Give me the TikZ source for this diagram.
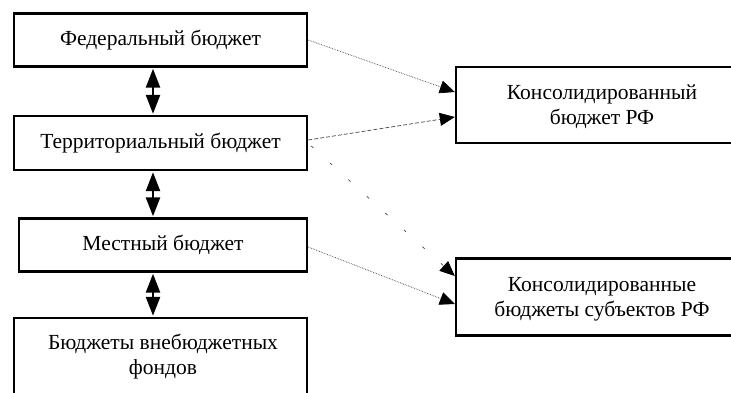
\documentclass[tikz,border=0pt]{standalone}
\usepackage{fontspec}
\setmainfont{Liberation Serif}
\usetikzlibrary{arrows.meta}
\begin{document}
\begin{tikzpicture}[x=1pt,y=-1pt,
  txt/.style={font=\fontsize{21.5}{25}\selectfont,align=center,inner sep=0pt},
  box/.style={draw,line width=2.4pt,inner sep=0pt,txt},
  dbl/.style={{Triangle[length=19pt,width=14pt]}-{Triangle[length=19pt,width=14pt]},line width=2.5pt,shorten <=1pt,shorten >=1pt},
  lnk/.style={-{Triangle[length=15pt,width=13pt,color=black,fill=black]},line width=0.7pt,gray!55!black}]
\useasboundingbox (0,0) rectangle (731,392);
\clip (0,0) rectangle (731,392);
\node[box,minimum width=293pt,minimum height=53pt] (fed) at (160.5,40) {Федеральный бюджет};
\node[box,minimum width=293pt,minimum height=54pt] (ter) at (160.5,143) {Территориальный бюджет};
\node[box,minimum width=288pt,minimum height=53pt] (loc) at (163,245) {Местный бюджет};
\node[box,minimum width=293pt,minimum height=90pt] (fnd) at (160.5,363) {};
\node[txt] (fndt) at (163,357) {Бюджеты внебюджетных\\фондов};
\node[box,minimum width=280pt,minimum height=76pt] (krf) at (596,105) {};
\node[txt] (krft) at (602,107) {Консолидированный\\бюджет РФ};
\node[box,minimum width=280pt,minimum height=77pt] (ksub) at (596,297) {};
\node[txt] (ksubt) at (602,299) {Консолидированные\\бюджеты субъектов РФ};
\draw[dbl] (fed.south -| 153,0) -- (ter.north -| 153,0);
\draw[dbl] (ter.south -| 153,0) -- (loc.north -| 153,0);
\draw[dbl] (loc.south -| 153,0) -- (fnd.north -| 153,0);
\coordinate (a1) at (fed.east |- 0,40);
\coordinate (b1) at (krf.west |- 0,92);
\coordinate (a2) at (ter.east |- 0,140);
\coordinate (b2) at (krf.west |- 0,117);
\coordinate (a3) at ([xshift=3pt]ter.east |- 0,146);
\coordinate (b3) at (ksub.west |- 0,276);
\coordinate (a4) at (loc.east |- 0,247);
\coordinate (b4) at (ksub.west |- 0,304);
\draw[lnk,densely dotted] (a1) -- (b1);
\draw[lnk,dash pattern=on 4pt off 2pt] (a2) -- (b2);
\draw[lnk,dash pattern=on 3pt off 22pt] (a3) -- (b3);
\draw[lnk,densely dotted] (a4) -- (b4);
\end{tikzpicture}
\end{document}
